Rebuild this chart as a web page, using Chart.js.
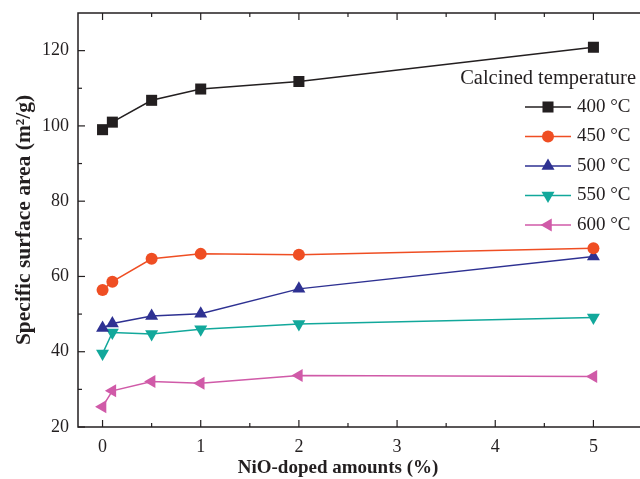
<!DOCTYPE html>
<html><head><meta charset="utf-8">
<script src="https://cdn.jsdelivr.net/npm/chart.js@4/dist/chart.umd.min.js"></script>
<style>html,body{margin:0;padding:0;overflow:hidden;background:#fff;width:640px;height:479px}canvas{display:block}</style>
</head><body>
<canvas id="c" width="680" height="479" style="width:680px;height:479px"></canvas>
<script>
const xValues = [0, 0.1, 0.5, 1, 2, 5];
const s400 = [99.0, 101.0, 106.8, 109.8, 111.8, 120.9];
const s450 = [56.4, 58.6, 64.7, 66.0, 65.8, 67.5];
const s500 = [46.3, 47.5, 49.5, 50.1, 56.7, 65.3];
const s550 = [39.5, 45.1, 44.7, 46.0, 47.4, 49.1];
const s600 = [25.4, 29.6, 32.1, 31.6, 33.7, 33.4];
const seriesNames = ['400 °C', '450 °C', '500 °C', '550 °C', '600 °C'];
const xTicks = [0, 1, 2, 3, 4, 5];
const yTicks = [20, 40, 60, 80, 100, 120];
const legendTitle = 'Calcined temperature';
const xTitle = 'NiO-doped amounts (%)';
const yTitle = 'Specific surface area (m²/g)';

const colors = ['#231f20', '#ef4e23', '#2e3192', '#12a89b', '#d05aa8'];
const styles = [
  {pointStyle: 'rect', r: 7.8, rot: 0},
  {pointStyle: 'circle', r: 6, rot: 0},
  {pointStyle: 'triangle', r: 7.5, rot: 0},
  {pointStyle: 'triangle', r: 7.5, rot: 180},
  {pointStyle: 'triangle', r: 7.5, rot: 270}
];
const all = [s400, s450, s500, s550, s600];
const datasets = all.map((s, i) => ({
  label: seriesNames[i],
  data: s.map((v, j) => ({x: xValues[j], y: v})),
  borderColor: colors[i],
  backgroundColor: colors[i],
  borderWidth: 1.5,
  pointStyle: styles[i].pointStyle,
  pointRadius: styles[i].r,
  pointHoverRadius: styles[i].r,
  pointRotation: styles[i].rot,
  pointBorderWidth: 0,
  tension: 0
}));

const AX = '#231f20';
const framePlugin = {
  id: 'frame',
  afterDraw(chart) {
    const {ctx, chartArea: a, scales: {x, y}} = chart;
    ctx.save();
    ctx.strokeStyle = AX; ctx.lineWidth = 1.5;
    ctx.strokeRect(a.left, a.top, a.right - a.left, a.bottom - a.top);
    ctx.lineWidth = 1.2;
    const tick = (px, py, dx, dy) => { ctx.beginPath(); ctx.moveTo(px, py); ctx.lineTo(px + dx, py + dy); ctx.stroke(); };
    const xt = x.ticks.map(t => t.value);
    const xm = [];
    for (let i = 0; i < xt.length; i++) { const m = xt[i] + 0.5; if (m < x.max) xm.push(m); }
    xt.forEach(v => { const p = x.getPixelForValue(v); tick(p, a.bottom, 0, -7); tick(p, a.top, 0, 7); });
    xm.forEach(v => { const p = x.getPixelForValue(v); tick(p, a.bottom, 0, -4); tick(p, a.top, 0, 4); });
    const yt = y.ticks.map(t => t.value);
    const ym = [];
    yt.forEach(v => { const m = v + 10; if (m < y.max) ym.push(m); });
    yt.forEach(v => { const p = y.getPixelForValue(v); tick(a.left, p, 7, 0); tick(a.right, p, -7, 0); });
    ym.forEach(v => { const p = y.getPixelForValue(v); tick(a.left, p, 4, 0); tick(a.right, p, -4, 0); });
    ctx.fillStyle = AX;
    ctx.font = 'bold 19px "Liberation Serif"';
    ctx.textAlign = 'center'; ctx.textBaseline = 'middle';
    ctx.fillText(xTitle, 338, 468);
    ctx.restore();
  }
};

const legendPlugin = {
  id: 'customLegend',
  afterDraw(chart) {
    const ctx = chart.ctx;
    ctx.save();
    ctx.font = '20.5px "Liberation Serif"';
    ctx.fillStyle = AX;
    ctx.textAlign = 'right'; ctx.textBaseline = 'middle';
    ctx.fillText(legendTitle, 636, 79);
    ctx.textAlign = 'left';
    ctx.font = '19px "Liberation Serif"';
    chart.data.datasets.forEach((ds, i) => {
      const yy = 107 + i * 29.5;
      ctx.strokeStyle = ds.borderColor; ctx.lineWidth = 1.5;
      ctx.beginPath(); ctx.moveTo(525, yy); ctx.lineTo(571, yy); ctx.stroke();
      ctx.fillStyle = ds.backgroundColor;
      Chart.helpers.drawPoint(ctx, {pointStyle: ds.pointStyle, rotation: ds.pointRotation, radius: ds.pointRadius, borderWidth: 0}, 548, yy);
      ctx.fillStyle = AX;
      ctx.fillText(ds.label, 577, yy);
    });
    ctx.restore();
  }
};

new Chart(document.getElementById('c'), {
  type: 'line',
  data: {datasets},
  options: {
    responsive: false,
    devicePixelRatio: 1,
    animation: false,
    layout: {padding: {top: 13, right: 10, bottom: 0, left: 0}},
    plugins: {legend: {display: false}, tooltip: {enabled: false}},
    scales: {
      x: {
        type: 'linear', min: -0.25, max: 5.78,
        afterBuildTicks: s => { s.ticks = xTicks.map(v => ({value: v})); },
        afterFit: s => { s.height = 52; s.paddingLeft = 0; s.paddingRight = 0; },
        grid: {display: false, drawTicks: false},
        border: {display: false},
        ticks: {padding: 9, color: AX, font: {family: 'Liberation Serif', size: 18}},
        title: {display: false}
      },
      y: {
        type: 'linear', min: 20, max: 130,
        afterBuildTicks: s => { s.ticks = yTicks.map(v => ({value: v})); },
        afterFit: s => { s.width = 78; s.paddingTop = 0; s.paddingBottom = 0; },
        grid: {display: false, drawTicks: false},
        border: {display: false},
        ticks: {padding: 9, color: AX, font: {family: 'Liberation Serif', size: 18}},
        title: {display: true, text: yTitle, color: AX, padding: {top: 12, bottom: 0}, font: {family: 'Liberation Serif', size: 21.5, weight: 'bold'}}
      }
    }
  },
  plugins: [framePlugin, legendPlugin]
});
</script>
</body></html>
